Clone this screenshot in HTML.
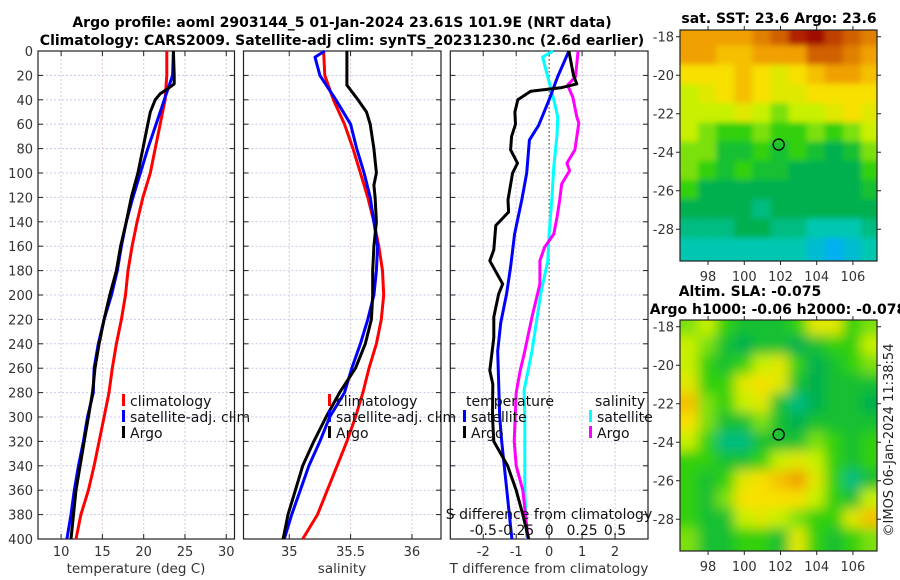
<!DOCTYPE html>
<html><head><meta charset="utf-8"><style>
html,body{margin:0;padding:0;background:#fff;}
svg{display:block;font-family:"DejaVu Sans","Liberation Sans",sans-serif;}
</style></head><body>
<svg id="fig" width="900" height="580" viewBox="0 0 900 580" xmlns="http://www.w3.org/2000/svg">
<defs>
<filter id="blur1" x="-5%" y="-5%" width="110%" height="110%"><feGaussianBlur stdDeviation="3"/></filter>
<filter id="blur2" x="-5%" y="-5%" width="110%" height="110%"><feGaussianBlur stdDeviation="6"/></filter>
<clipPath id="clipM1"><rect x="680" y="30" width="197" height="231"/></clipPath>
<clipPath id="clipM2"><rect x="680" y="320" width="197" height="231"/></clipPath>
</defs>
<g font-weight="bold" font-size="14" text-anchor="middle" fill="#000">
<text x="342" y="27">Argo profile: aoml 2903144_5 01-Jan-2024 23.61S 101.9E (NRT data)</text>
<text x="342" y="45">Climatology: CARS2009. Satellite-adj clim: synTS_20231230.nc (2.6d earlier)</text>
<text x="779" y="23">sat. SST: 23.6 Argo: 23.6</text>
<text x="750" y="296">Altim. SLA: -0.075</text>
<text x="778" y="314">Argo h1000: -0.06 h2000: -0.078</text>
</g>
<g id="panels"></g>
<g id="maps"></g>
<text x="0" y="0" font-size="13" fill="#222" text-anchor="middle" transform="translate(893,440) rotate(-90)">©IMOS 06-Jan-2024 11:38:54</text>
</svg>
<script>
// ---- profile data (depth m, value) ----
const climDepth = [0,20,40,60,80,100,120,140,160,180,200,220,240,260,280,300,320,340,360,380,400];
const climTemp = [22.8,22.8,22.6,22.0,21.4,20.8,19.9,19.2,18.6,18.1,17.8,17.3,16.7,16.2,15.8,15.2,14.6,14.0,13.3,12.4,11.8];
const satTempDepth = [0,20,30,40,60,80,100,120,140,160,180,200,220,240,260,280,300,320,340,360,380,400];
const satTemp = [23.6,23.5,23.0,22.5,21.5,20.5,19.6,18.7,17.9,17.3,16.8,16.1,15.2,14.5,14.0,13.9,13.2,12.7,12.1,11.6,11.2,10.7];
const argoTempDepth = [0,20,27,30,35,40,50,60,80,100,120,140,160,180,200,220,240,260,280,300,320,340,360,380,400];
const argoTemp = [23.6,23.7,23.7,23.1,22.0,21.4,20.8,20.5,19.9,19.3,18.5,17.9,17.2,16.7,15.9,15.2,14.6,14.1,13.8,13.3,12.8,12.3,11.8,11.5,11.2];
const climSal = [35.28,35.29,35.36,35.45,35.52,35.58,35.64,35.69,35.73,35.76,35.77,35.75,35.71,35.65,35.6,35.54,35.47,35.39,35.31,35.23,35.11];
const satSalDepth = [0,5,20,40,60,80,100,120,140,160,180,200,220,240,260,280,300,320,340,360,380,400];
const satSal = [35.29,35.21,35.25,35.38,35.5,35.55,35.61,35.66,35.69,35.72,35.71,35.69,35.64,35.58,35.51,35.45,35.33,35.25,35.16,35.09,35.02,34.96];
const argoSalDepth = [0,28,32,40,50,60,80,100,110,120,140,160,180,200,220,240,260,280,300,320,340,360,380,400];
const argoSal = [35.47,35.47,35.5,35.56,35.63,35.66,35.69,35.71,35.69,35.7,35.71,35.69,35.68,35.68,35.67,35.62,35.54,35.41,35.3,35.2,35.11,35.05,34.99,34.95];
const tDiffDepth = [0,20,27,30,33,40,50,60,70,81,92,100,122,132,143,163,172,191,199,218,235,262,273,300,320,340,360,380,400];
const argoTDiff = [0.6,0.74,0.84,0.38,-0.56,-0.95,-1.04,-1.02,-1.14,-1.17,-0.96,-1.11,-1.25,-1.23,-1.62,-1.68,-1.8,-1.41,-1.53,-1.68,-1.68,-1.8,-1.71,-1.72,-1.68,-1.26,-1.0,-0.8,-0.62];
const satTDiffDepth = [0,21,40,61,73,100,122,150,177,199,223,246,273,300,320,400];
const satTDiff = [0.6,0.26,0.0,-0.32,-0.6,-0.68,-0.83,-1.05,-1.17,-1.29,-1.47,-1.56,-1.53,-1.5,-1.44,-1.13];
const satSDiffDepth = [0,5,40,54,68,95,122,150,172,199,246,278,300,360,400];
const satSDiff = [0.03,-0.05,0.035,0.065,0.06,0.035,0.02,0.0,-0.01,-0.064,-0.13,-0.19,-0.185,-0.185,-0.17];
const argoSDiffDepth = [0,21,28,38,54,59,81,92,98,109,122,136,150,161,172,191,218,246,262,280,320,340,360,400];
const argoSDiff = [0.22,0.2,0.14,0.18,0.21,0.225,0.195,0.135,0.155,0.095,0.08,0.06,0.035,-0.035,-0.07,-0.07,-0.13,-0.185,-0.22,-0.25,-0.265,-0.25,-0.2,-0.16];
const depthTicks = [0,20,40,60,80,100,120,140,160,180,200,220,240,260,280,300,320,340,360,380,400];
const tempTicks = [10,15,20,25,30];
const salTicks = [35,35.5,36];
const salTickLabels = ["35","35.5","36"];
const tdTicks = [-2,-1,0,1,2];
const sdTicks = [-0.5,-0.25,0,0.25,0.5];

// ---- map data (rows lat -18..-29, cols lon 97..107) ----
const mapLons = [97,98,99,100,101,102,103,104,105,106,107];
const mapLats = [-18,-19,-20,-21,-22,-23,-24,-25,-26,-27,-28,-29];
const sstGrid = [
[7,7,7,7,7.5,8,9,9.5,8.5,8,7.5],
[7,7,6.5,6.5,7,7,7,8,8,7.5,7],
[6,6,6,6.5,6,5.5,6,6.5,7,7,6.5],
[5,5.5,6,6.5,6,5.5,5.5,6,6,6,6],
[5,5,5,5.5,5,4.5,5,5,5.5,6,5.5],
[5,4.5,4,4,4.5,4,4,4.5,4,4.5,5],
[4.5,4.5,3.5,3.5,4,3.5,4,3.5,3,3.5,4.5],
[4.5,4,3.5,4,3.5,3.5,3,3,3,3,4],
[4,3,3,3,3,3,3,3,3,3,3.5],
[3,3,3,3,2.5,3,3,3,3,3,3],
[2.5,2.5,2.5,3,3,2.5,2.5,2,2,2,2.5],
[2,2,2,2,2,2,2,1.5,1,1.5,2]];
const slaGrid = [
[4.5,5,4,3.5,3.5,3.5,4,5.5,5.5,4,4.5],
[5,4.5,3.5,3,3.5,3.5,3,3.5,4,4,5],
[5,4,3.5,4,5,5.5,4,3,3.5,4,4.5],
[5.5,4,4,5.5,6,5.5,3.5,3,3.5,3.5,3.5],
[6.5,4.5,4,5,5.5,3.5,2.5,3,3.5,3.5,3],
[6,4.5,3.5,3.5,4.5,3.5,3,3.5,3.5,3.5,3.5],
[5,4,2.5,2.5,3.5,3.5,3.5,4.5,4,3.5,4],
[4,4,3.5,3.5,4,5,5.5,5,4,3.5,4],
[4,3.5,4,5.5,6,6.5,7,5.5,4,2.5,3.5],
[4,3.5,4.5,6,6,6,6,5,4,3.5,5],
[4,3.5,3.5,5,5.5,5,4.5,4,4,5.5,6.5],
[4.5,3.5,3.5,4,4,3.5,5.5,4,3.5,4,4.5]];
const lonTicks = [98,100,102,104,106];
const latTicks = [-18,-20,-22,-24,-26,-28];
const argoLon = 101.9, argoLat = -23.6;

const NS = "http://www.w3.org/2000/svg";
function mk(tag, attrs, parent){const e=document.createElementNS(NS,tag);for(const k in attrs)e.setAttribute(k,attrs[k]);parent.appendChild(e);return e;}
const yTop=51, yBot=539;
const yD = d => yTop + d*(yBot-yTop)/400;
const panelsG = document.getElementById('panels');

function panel(name, x0, x1, lo, hi, ticks, labels, showY){
  const g = mk('g',{},panelsG);
  
  
  const sx = v => x0 + (v-lo)*(x1-x0)/(hi-lo);
  depthTicks.forEach(d=>{
    mk('line',{x1:x0,x2:x1,y1:yD(d),y2:yD(d),stroke:'#c4ccee','stroke-width':1,'stroke-dasharray':'2,2'},g);
    mk('line',{x1:x0,x2:x0+5,y1:yD(d),y2:yD(d),stroke:'#222'},g);
    mk('line',{x1:x1-5,x2:x1,y1:yD(d),y2:yD(d),stroke:'#222'},g);
    if(showY){const t=mk('text',{x:x0-5,y:yD(d)+5,'text-anchor':'end','font-size':13,fill:'#333'},g);t.textContent=d;}
  });
  ticks.forEach((v,i)=>{
    mk('line',{x1:sx(v),x2:sx(v),y1:yTop,y2:yBot,stroke:'#dcc4d8','stroke-width':1,'stroke-dasharray':'2,2'},g);
    mk('line',{x1:sx(v),x2:sx(v),y1:yBot,y2:yBot-5,stroke:'#222'},g);
    mk('line',{x1:sx(v),x2:sx(v),y1:yTop,y2:yTop+5,stroke:'#222'},g);
    const t=mk('text',{x:sx(v),y:556,'text-anchor':'middle','font-size':13,fill:'#333'},g);t.textContent=labels[i];
  });
  mk('rect',{x:x0,y:yTop,width:x1-x0,height:yBot-yTop,fill:'none',stroke:'#222','stroke-width':1.2},g);
  return {g,sx};
}
function line(g, sx, depths, vals, color, name){
  const pts = depths.map((d,i)=>sx(vals[i]).toFixed(1)+','+yD(d).toFixed(1)).join(' ');
  const p = mk('polyline',{points:pts,fill:'none',stroke:color,'stroke-width':3,'stroke-linejoin':'round'},g);
  
  
}
function legendItem(g,x,y,color,label,name){
  const it = mk('g',{},g);
  
  
  mk('rect',{x:x,y:y-12,width:3,height:12,fill:color},it);
  const t=mk('text',{x:x+8,y:y,'font-size':14,fill:'#111'},it);t.textContent=label;
}
function xTitle(g,x,label,name){const t=mk('text',{x:x,y:573,'text-anchor':'middle','font-size':13.5,fill:'#333'},g);t.textContent=label;
  
  }

// Panel 1: temperature
const P1 = panel('temperature-panel',38,234.5,7.2,31.0,tempTicks,tempTicks.map(String),true);
line(P1.g,P1.sx,climDepth,climTemp,'#ff0000','temp-climatology-line');
line(P1.g,P1.sx,satTempDepth,satTemp,'#0000ff','temp-satellite-line');
line(P1.g,P1.sx,argoTempDepth,argoTemp,'#000000','temp-argo-line');
legendItem(P1.g,122,406,'#ff0000','climatology','legend-climatology');
legendItem(P1.g,122,422,'#0000ff','satellite-adj. clim','legend-satellite');
legendItem(P1.g,122,438,'#000000','Argo','legend-argo');
xTitle(P1.g,136,'temperature (deg C)','temperature-axis-title');

// Panel 2: salinity
const P2 = panel('salinity-panel',243.5,441,34.627,36.237,salTicks,salTickLabels,false);
line(P2.g,P2.sx,climDepth,climSal,'#ff0000','sal-climatology-line');
line(P2.g,P2.sx,satSalDepth,satSal,'#0000ff','sal-satellite-line');
line(P2.g,P2.sx,argoSalDepth,argoSal,'#000000','sal-argo-line');
legendItem(P2.g,328,406,'#ff0000','climatology','legend-sal-climatology');
legendItem(P2.g,328,422,'#0000ff','satellite-adj. clim','legend-sal-satellite');
legendItem(P2.g,328,438,'#000000','Argo','legend-sal-argo');
xTitle(P2.g,342,'salinity','salinity-axis-title');

// Panel 3: differences
const P3 = panel('difference-panel',450.3,648,-3,3,tdTicks,tdTicks.map(String),false);
const sxS = v => P3.sx(v*4);
mk('line',{x1:P3.sx(0),x2:P3.sx(0),y1:yTop,y2:yBot,stroke:'#6b5a2a','stroke-width':1.2,'stroke-dasharray':'1.5,2.5'},P3.g);
line(P3.g,sxS,satSDiffDepth,satSDiff,'#00ffff','sdiff-satellite-line');
line(P3.g,sxS,argoSDiffDepth,argoSDiff,'#ff00ff','sdiff-argo-line');
line(P3.g,P3.sx,satTDiffDepth,satTDiff,'#0000ff','tdiff-satellite-line');
line(P3.g,P3.sx,tDiffDepth,argoTDiff,'#000000','tdiff-argo-line');
{const t=mk('text',{x:466,y:406,'font-size':14,fill:'#111'},P3.g);t.textContent='temperature';}
{const t=mk('text',{x:595,y:406,'font-size':14,fill:'#111'},P3.g);t.textContent='salinity';}
legendItem(P3.g,463,422,'#0000ff','satellite','legend-t-satellite');
legendItem(P3.g,463,438,'#000000','Argo','legend-t-argo');
legendItem(P3.g,589,422,'#00ffff','satellite','legend-s-satellite');
legendItem(P3.g,589,438,'#ff00ff','Argo','legend-s-argo');
{const t=mk('text',{x:549,y:519,'text-anchor':'middle','font-size':14,fill:'#111'},P3.g);t.textContent='S difference from climatology';
 
 }
sdTicks.forEach(v=>{const t=mk('text',{x:sxS(v),y:535,'text-anchor':'middle','font-size':14,fill:'#111'},P3.g);t.textContent=String(v);});
xTitle(P3.g,549,'T difference from climatology','t-diff-axis-title');

// ---- maps ----
const stops = [[0,[16,96,255]],[1,[0,176,240]],[2,[0,200,176]],[3,[0,176,80]],[4,[48,208,16]],[5,[200,240,0]],[6,[248,224,0]],[7,[240,160,0]],[8,[208,96,0]],[9,[176,32,0]],[10,[144,0,0]]];
function cmap(v){v=Math.max(0,Math.min(10,v));const i=Math.min(9,Math.floor(v));const f=v-i;const a=stops[i][1],b=stops[i+1][1];
  return 'rgb('+a.map((c,k)=>Math.round(c+(b[k]-c)*f)).join(',')+')';}
const mapsG = document.getElementById('maps');
function mapPanel(name, y0, grid, clip, blur){
  const x0=680,x1=877,y1=y0+231;
  const lonLo=96.45, lonHi=107.33, latHi=-17.65, latLo=-29.65;
  const sx = lon => x0 + (lon-lonLo)*(x1-x0)/(lonHi-lonLo);
  const sy = lat => y0 + (latHi-lat)*(y1-y0)/(latHi-latLo);
  const g = mk('g',{},mapsG);
  
  
  const cg = mk('g',{'clip-path':'url(#'+clip+')'},g);
  const bg = mk('g',{filter:'url(#'+blur+')'},cg);
  const nr = grid.length, nc = grid[0].length;
  for(let r=-2;r<nr+2;r++){
    for(let c=-2;c<nc+2;c++){
      const rr=Math.max(0,Math.min(nr-1,r)), cc=Math.max(0,Math.min(nc-1,c));
      const v=grid[rr][cc];
      const lon=mapLons[0]+c, lat=mapLats[0]-r;
      const cell = mk('rect',{x:sx(lon-0.5)-1,y:sy(lat+0.5)-1,width:sx(lon+0.5)-sx(lon-0.5)+2,height:sy(lat-0.5)-sy(lat+0.5)+2,fill:cmap(v)},bg);
      
      
    }
  }
  mk('rect',{x:x0,y:y0,width:x1-x0,height:y1-y0,fill:'none',stroke:'#222','stroke-width':1.2},g);
  lonTicks.forEach(l=>{
    mk('line',{x1:sx(l),x2:sx(l),y1:y0,y2:y0-4,stroke:'#222'},g);
    mk('line',{x1:sx(l),x2:sx(l),y1:y1,y2:y1+4,stroke:'#222'},g);
    const t=mk('text',{x:sx(l),y:y1+20,'text-anchor':'middle','font-size':13,fill:'#333'},g);t.textContent=l;
  });
  latTicks.forEach(l=>{
    mk('line',{x1:x0,x2:x0-4,y1:sy(l),y2:sy(l),stroke:'#222'},g);
    mk('line',{x1:x1,x2:x1+4,y1:sy(l),y2:sy(l),stroke:'#222'},g);
    const t=mk('text',{x:x0-6,y:sy(l)+5,'text-anchor':'end','font-size':13,fill:'#333'},g);t.textContent=l;
  });
  const c = mk('circle',{cx:sx(argoLon),cy:sy(argoLat),r:5.5,fill:'none',stroke:'#000','stroke-width':1.3},g);
  
  
}
mapPanel('sst-map',30,sstGrid,'clipM1','blur1');
mapPanel('sla-map',320,slaGrid,'clipM2','blur2');
</script>
</body></html>
